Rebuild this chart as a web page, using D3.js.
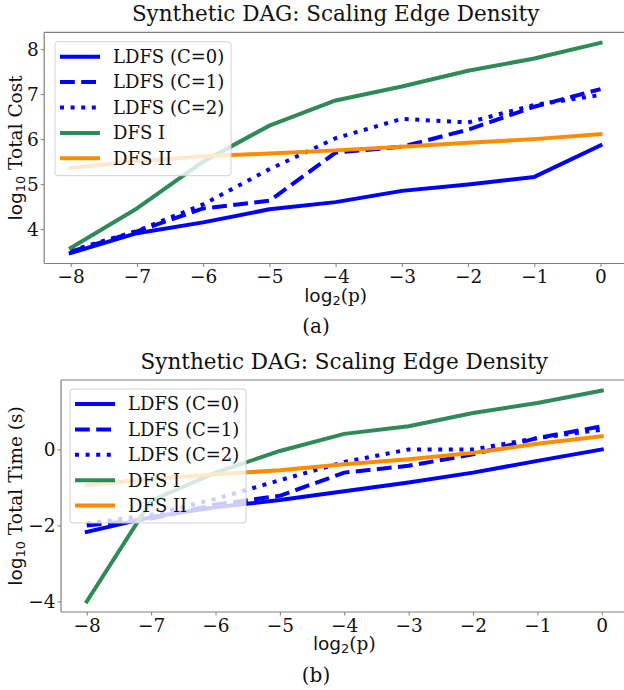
<!DOCTYPE html>
<html>
<head>
<meta charset="utf-8">
<script src="https://cdn.jsdelivr.net/npm/d3@7"></script>
<style>
  html, body { margin: 0; padding: 0; background: #fff; }
  svg { display: block; }
</style>
</head>
<body>
<svg id="chart" width="624" height="690"></svg>
<script>
// ---------------- data ----------------
const xValues = [-8, -7, -6, -5, -4, -3, -2, -1, 0];
const xTickValues = [-8, -7, -6, -5, -4, -3, -2, -1, 0];
const seriesNames = ["LDFS (C=0)", "LDFS (C=1)", "LDFS (C=2)", "DFS I", "DFS II"];
const seriesColors = ["#0000ff", "#0000ff", "#0000ff", "#2e8b57", "#ff8c00"];
const seriesDash = ["solid", "dashed", "dotted", "solid", "solid"];

// (a) log10 total cost
const costLDFS0 = [3.47, 3.91, 4.15, 4.44, 4.60, 4.85, 4.99, 5.16, 5.86];
const costLDFS1 = [3.50, 3.95, 4.46, 4.63, 5.70, 5.83, 6.21, 6.72, 7.11];
const costLDFS2 = [3.52, 3.96, 4.55, 5.33, 6.02, 6.45, 6.37, 6.76, 6.98];
const costDFS1  = [3.58, 4.46, 5.50, 6.30, 6.86, 7.17, 7.52, 7.79, 8.14];
const costDFS2  = [5.36, 5.51, 5.62, 5.68, 5.75, 5.83, 5.92, 6.00, 6.11];
const costYTicks = [4, 5, 6, 7, 8];

// (b) log10 total time (s)
const timeLDFS0 = [-2.17, -1.78, -1.52, -1.33, -1.10, -0.87, -0.61, -0.30, 0.00];
const timeLDFS1 = [-2.00, -1.82, -1.45, -1.22, -0.61, -0.43, -0.13, 0.30, 0.61];
const timeLDFS2 = [-1.95, -1.72, -1.30, -0.81, -0.33, 0.00, 0.00, 0.30, 0.52];
const timeDFS1  = [-4.00, -1.35, -0.61, -0.04, 0.41, 0.61, 0.96, 1.22, 1.55];
const timeDFS2  = [-0.93, -0.78, -0.65, -0.55, -0.39, -0.26, -0.09, 0.15, 0.35];
const timeYTicks = [-4, -2, 0];

const titleText = "Synthetic DAG: Scaling Edge Density";

// ---------------- drawing ----------------
const svg = d3.select("#chart");
const SERIF = "'DejaVu Serif', serif";
const SANS = "'DejaVu Sans', sans-serif";
const minus = v => (v < 0 ? "\u2212" + Math.abs(v) : String(v));

function dashArray(kind) {
  if (kind === "dashed") return "14.8,6.4";
  if (kind === "dotted") return "4,6.6";
  return null;
}

function mathLabel(sel, sub, rest) {
  sel.append("tspan").attr("font-family", SANS).text("log");
  sel.append("tspan").attr("font-family", SANS).attr("font-size", "0.7em").attr("dy", "0.25em").text(sub);
  sel.append("tspan").attr("font-family", SERIF).attr("dy", "-0.175em").text(rest);
}

function panel(cfg) {
  const { left, top, right, bottom, series, yTicks, yLabelRest, caption, captionY, legendOffset } = cfg;
  const allY = series.flat();
  const ymin = d3.min(allY), ymax = d3.max(allY);
  const ym = (ymax - ymin) * 0.05;
  const xmin = d3.min(xValues), xmax = d3.max(xValues);
  const xm = (xmax - xmin) * 0.05;

  const x = d3.scaleLinear().domain([xmin - xm, xmax + xm]).range([left, right]);
  const y = d3.scaleLinear().domain([ymin - ym, ymax + ym]).range([bottom, top]);

  const g = svg.append("g");

  // lines
  const line = d3.line().x((d, i) => x(xValues[i])).y(d => y(d));
  series.forEach((vals, i) => {
    g.append("path")
      .datum(vals)
      .attr("d", line)
      .attr("fill", "none")
      .attr("stroke", seriesColors[i])
      .attr("stroke-width", 4)
      .attr("stroke-linejoin", "round")
      .attr("stroke-linecap", seriesDash[i] === "solid" ? "square" : "butt")
      .attr("stroke-dasharray", dashArray(seriesDash[i]));
  });

  // spines (right one falls off-canvas)
  const spine = "#7f7f7f";
  g.append("line").attr("x1", left).attr("x2", right).attr("y1", top).attr("y2", top).attr("stroke", spine).attr("stroke-width", 1.2);
  g.append("line").attr("x1", left).attr("x2", right).attr("y1", bottom).attr("y2", bottom).attr("stroke", spine).attr("stroke-width", 1.2);
  g.append("line").attr("x1", left).attr("x2", left).attr("y1", top).attr("y2", bottom).attr("stroke", spine).attr("stroke-width", 1.2);
  g.append("line").attr("x1", right).attr("x2", right).attr("y1", top).attr("y2", bottom).attr("stroke", spine).attr("stroke-width", 1.2);

  // axes
  const xAxis = d3.axisBottom(x).tickValues(xTickValues).tickFormat(minus).tickSize(3.5).tickPadding(3);
  const xg = g.append("g").attr("transform", `translate(0,${bottom})`).call(xAxis);
  xg.select(".domain").remove();
  xg.selectAll(".tick line").attr("stroke", spine);
  xg.selectAll(".tick text").attr("font-family", SERIF).attr("font-size", 18.5).attr("fill", "#111");

  const yAxis = d3.axisLeft(y).tickValues(yTicks).tickFormat(minus).tickSize(3.5).tickPadding(2);
  const yg = g.append("g").attr("transform", `translate(${left},0)`).call(yAxis);
  yg.select(".domain").remove();
  yg.selectAll(".tick line").attr("stroke", spine);
  yg.selectAll(".tick text").attr("font-family", SERIF).attr("font-size", 18.5).attr("fill", "#111");

  // title
  g.append("text")
    .attr("x", (left + right) / 2).attr("y", top - 11.5)
    .attr("text-anchor", "middle")
    .attr("font-family", SERIF).attr("font-size", 21.5).attr("fill", "#111")
    .text(titleText);

  // x label
  const xl = g.append("text")
    .attr("x", (left + right) / 2).attr("y", bottom + 38)
    .attr("text-anchor", "middle")
    .attr("font-size", 18.5).attr("fill", "#111");
  mathLabel(xl, "2", "(p)");

  // y label
  const yl = g.append("text")
    .attr("transform", `translate(22,${(top + bottom) / 2}) rotate(-90)`)
    .attr("text-anchor", "middle")
    .attr("font-size", 18.5).attr("fill", "#111");
  mathLabel(yl, "10", " " + yLabelRest);

  // caption
  g.append("text")
    .attr("x", 316).attr("y", captionY)
    .attr("text-anchor", "middle")
    .attr("font-family", SERIF).attr("font-size", 20).attr("fill", "#111")
    .text(caption);

  // legend
  const lx = left + legendOffset[0], ly = top + legendOffset[1];
  const lg = g.append("g").attr("transform", `translate(${lx},${ly})`);
  lg.append("rect")
    .attr("width", 176).attr("height", 134).attr("rx", 3)
    .attr("fill", "#fff").attr("fill-opacity", 0.8)
    .attr("stroke", "#cccccc").attr("stroke-opacity", 0.9).attr("stroke-width", 1);
  seriesNames.forEach((name, i) => {
    const cy = 15 + i * 25.4;
    lg.append("line")
      .attr("x1", 5).attr("x2", 45).attr("y1", cy).attr("y2", cy)
      .attr("stroke", seriesColors[i]).attr("stroke-width", 4)
      .attr("stroke-linecap", "butt")
      .attr("stroke-dasharray", dashArray(seriesDash[i]));
    lg.append("text")
      .attr("x", 58).attr("y", cy).attr("dy", "0.35em")
      .attr("font-family", SERIF).attr("font-size", 18).attr("fill", "#111")
      .text(name);
  });
}

panel({
  left: 44.2, top: 32.3, right: 627, bottom: 263.5,
  series: [costLDFS0, costLDFS1, costLDFS2, costDFS1, costDFS2],
  yTicks: costYTicks, yLabelRest: "Total Cost",
  caption: "(a)", captionY: 333, legendOffset: [10.8, 9.4]
});

panel({
  left: 61, top: 380, right: 627.5, bottom: 612,
  series: [timeLDFS0, timeLDFS1, timeLDFS2, timeDFS1, timeDFS2],
  yTicks: timeYTicks, yLabelRest: "Total Time (s)",
  caption: "(b)", captionY: 682, legendOffset: [9, 9]
});
</script>
</body>
</html>
